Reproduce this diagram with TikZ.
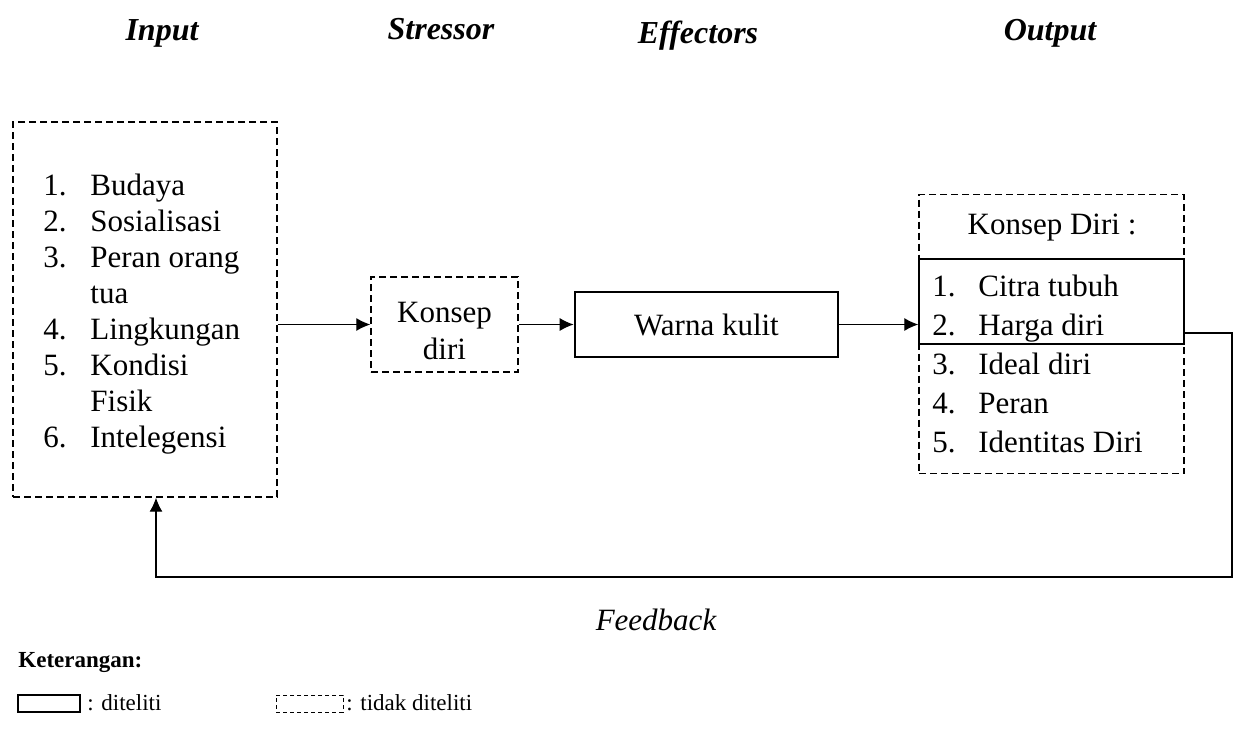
\documentclass[tikz,border=0pt]{standalone}
\usepackage{fontspec}
\setmainfont{Liberation Serif}
\usetikzlibrary{arrows.meta}

\begin{document}
\begin{tikzpicture}[x=0.5pt,y=-0.5pt,
        dbox/.style={draw, line width=0.7pt, dash pattern=on 3.5pt off 2pt, inner sep=0pt},
        sbox/.style={draw, line width=1.3pt, inner sep=0pt},
        arr/.style={-{Latex[length=7pt,width=6.5pt]}, line width=0.6pt},
        judul/.style={anchor=base, font=\fontsize{16}{19}\selectfont\bfseries\itshape},
        teks/.style={font=\fontsize{15.5}{18}\selectfont}]
        \useasboundingbox (0,0) rectangle (1237,729);

        % judul kolom
        \node[judul] (tinput) at (162,40) {Input};
        \node[judul] (tstres) at (441,39) {Stressor};
        \node[judul] (teffec) at (698,43) {Effectors};
        \node[judul] (toutpt) at (1050,40) {Output};

        % input
        \node[dbox, minimum width=132pt, minimum height=187.5pt] (inp) at (145,309.5) {};
        \node[teks, anchor=west, inner sep=0pt] (daftar) at (43,314)
            {\begin{tabular}{@{}p{23.5pt}@{}l@{}}
                1. & Budaya\\
                2. & Sosialisasi\\
                3. & Peran orang\\
                   & tua\\
                4. & Lingkungan\\
                5. & Kondisi\\
                   & Fisik\\
                6. & Intelegensi
            \end{tabular}};

        % stressor dan effectors
        \node[dbox, minimum width=73.5pt, minimum height=47.5pt] (kd) at (444.5,324.5) {};
        \node[teks, font=\fontsize{15.5}{18.5}\selectfont, align=center] (kdt) at (444.5,331) {Konsep\\diri};
        \node[sbox, teks, minimum width=131.5pt, minimum height=32.5pt] (wk) at (706.5,324.5) {Warna kulit};

        % output
        \node[dbox, minimum width=132.5pt, minimum height=139.5pt] (out) at (1051.5,334) {};
        \node[teks] (kdiri) at (1052,228) {Konsep Diri :};
        \node[sbox, minimum width=132.5pt, minimum height=42.5pt] (sel) at (1051.5,301.5) {};
        \node[teks, font=\fontsize{15.5}{19.5}\selectfont, anchor=west, inner sep=0pt] (hasil) at (932,367)
            {\begin{tabular}{@{}p{23pt}@{}l@{}}
                1. & Citra tubuh\\
                2. & Harga diri\\
                3. & Ideal diri\\
                4. & Peran\\
                5. & Identitas Diri
            \end{tabular}};

        % panah
        \draw[arr] (inp.east |- kd.west) -- (kd.west);
        \draw[arr] (kd.east) -- (wk.west);
        \draw[arr] (wk.east) -- (out.west |- wk.east);

        % umpan balik
        \coordinate (fb) at (1232,577);
        \draw[arr] ([yshift=-15.75pt]sel.east) -| (fb) -| ([xshift=5.5pt]inp.south);
        \node[teks, font=\fontsize{15.5}{18}\selectfont\itshape] (tfb) at (656,620) {Feedback};

        % keterangan
        \node[anchor=west, inner sep=0pt, font=\fontsize{11.5}{14}\selectfont\bfseries] (ket) at (18,662) {Keterangan:};
        \node[draw, line width=0.6pt, minimum width=31pt, minimum height=8.5pt, inner sep=0pt] (lg1) at (49,703.5) {};
        \node[anchor=west, font=\fontsize{11.5}{14}\selectfont, inner sep=0pt] (lt1) at (87,703) {: diteliti};
        \node[draw, line width=0.5pt, dash pattern=on 2.2pt off 1.3pt, minimum width=33.5pt, minimum height=8.5pt, inner sep=0pt] (lg2) at (309.5,703.5) {};
        \node[anchor=west, font=\fontsize{11.5}{14}\selectfont, inner sep=0pt] (lt2) at (346,703) {: tidak diteliti};
    \end{tikzpicture}
\end{document}
